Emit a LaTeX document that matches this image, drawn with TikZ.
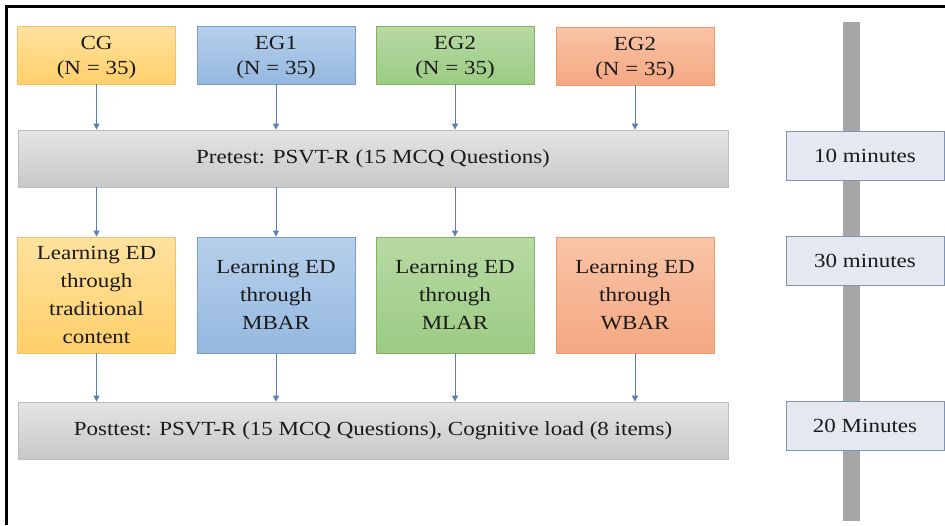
\documentclass[tikz,border=0pt]{standalone}
\usepackage{fontspec}
\setmainfont[FakeStretch=1.15]{Liberation Serif}
\usetikzlibrary{arrows.meta}
\definecolor{cgT}{HTML}{FFE29E}
\definecolor{cgB}{HTML}{FFCF6A}
\definecolor{cgD}{HTML}{F3C067}
\definecolor{e1T}{HTML}{B6D0EB}
\definecolor{e1B}{HTML}{95B8E0}
\definecolor{e1D}{HTML}{7B9CC6}
\definecolor{e2T}{HTML}{B7DAA3}
\definecolor{e2B}{HTML}{9CCB84}
\definecolor{e2D}{HTML}{7EB462}
\definecolor{e3T}{HTML}{F9C4A6}
\definecolor{e3B}{HTML}{F4A882}
\definecolor{e3D}{HTML}{EE9A6F}
\definecolor{grT}{HTML}{E4E4E4}
\definecolor{grB}{HTML}{C8C8C8}
\definecolor{grD}{HTML}{BDBDBD}
\definecolor{tmF}{HTML}{E5E8F0}
\definecolor{tmD}{HTML}{8093B0}
\definecolor{barC}{HTML}{A6A6A6}
\definecolor{arrC}{HTML}{5A7EB5}
\definecolor{txtC}{HTML}{1A1A1A}
\begin{document}
\begin{tikzpicture}[x=1pt,y=-1pt,
  base/.style={rectangle, draw, line width=0.8pt, inner sep=2pt, align=center,
    text=txtC, font=\fontsize{20}{25}\selectfont},
  group/.style={base, minimum width=158pt, minimum height=58pt},
  learn/.style={base, minimum width=158pt, minimum height=116pt,
    font=\fontsize{20}{28}\selectfont},
  wide/.style={base, minimum width=710pt, minimum height=57pt,
    top color=grT, bottom color=grB, draw=grD},
  timebox/.style={base, minimum width=158pt, minimum height=49pt,
    fill=tmF, draw=tmD},
  cgc/.style={top color=cgT, bottom color=cgB, draw=cgD},
  e1c/.style={top color=e1T, bottom color=e1B, draw=e1D},
  e2c/.style={top color=e2T, bottom color=e2B, draw=e2D},
  e3c/.style={top color=e3T, bottom color=e3B, draw=e3D},
  arr/.style={draw=arrC, line width=0.9pt, -{Triangle[length=6pt,width=6pt]}},
  frameline/.style={line width=3.5pt, black}
]
\useasboundingbox (0,0) rectangle (945,525);
\fill[white] (0,0) rectangle (945,525);

% frame (cropped: left and top visible)
\coordinate (fbl) at (6.5,525);
\coordinate (ftl) at (6.5,6.5);
\coordinate (ftr) at (945,6.5);
\draw[frameline] (fbl) -- (ftl) -- (ftr);

% time bar
\fill[barC] (843,22) rectangle (860,521);

% group boxes
\node[group, cgc] (cg)  at (96.5,55) {\strut CG\\(N = 35)};
\node[group, e1c] (eg1) at (276,55) {\strut EG1\\(N = 35)};
\node[group, e2c] (eg2) at (455,55) {\strut EG2\\(N = 35)};
\node[group, e3c] (eg3) at (635,56) {\strut EG2\\(N = 35)};

% pretest
\node[wide] (pre) at (373,158.5) {Pretest: PSVT-R (15 MCQ Questions)};

% learning boxes
\node[learn, cgc] (lcg)  at (96.5,295) {Learning ED\\through\\traditional\\content};
\node[learn, e1c] (leg1) at (276,295) {Learning ED\\through\\MBAR};
\node[learn, e2c] (leg2) at (455,295) {Learning ED\\through\\MLAR};
\node[learn, e3c] (leg3) at (635,295) {Learning ED\\through\\WBAR};

% posttest
\node[wide] (post) at (373,430.5) {Posttest: PSVT-R (15 MCQ Questions), Cognitive load (8 items)};

% time boxes
\node[timebox] (t1) at (865,156) {10 minutes};
\node[timebox] (t2) at (865,261) {30 minutes};
\node[timebox] (t3) at (865,426) {20 Minutes};

% arrows
\foreach \a in {cg, eg1, eg2, eg3}{
  \draw[arr] (\a.south) -- (\a.south |- pre.north);
}
\foreach \b in {lcg, leg1, leg2}{
  \draw[arr] (\b.north |- pre.south) -- (\b.north);
}
\foreach \b in {lcg, leg1, leg2, leg3}{
  \draw[arr] (\b.south) -- (\b.south |- post.north);
}
\end{tikzpicture}
\end{document}
